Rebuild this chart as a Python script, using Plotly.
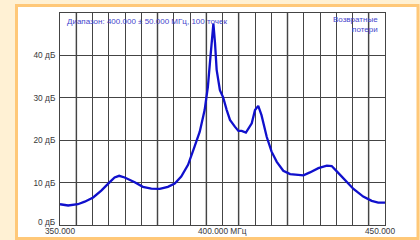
import plotly.graph_objects as go

# ---- data ----
freq_mhz = [350.0, 352.5, 355.5, 357.6, 360.2, 362.7, 365.3, 366.8, 368.2, 369.9,
            373.0, 375.5, 378.1, 380.7, 383.2, 385.3, 387.3, 389.4, 391.4, 393.0,
            394.5, 395.5, 396.2, 396.7, 397.2, 397.7, 398.2, 399.2, 400.2, 401.3,
            402.3, 403.8, 404.9, 405.9, 407.2, 409.0, 410.0, 411.0, 412.0, 413.6,
            415.1, 416.7, 418.7, 420.8, 422.8, 424.9, 426.9, 429.5, 432.1, 433.6,
            435.1, 437.7, 440.3, 443.3, 445.9, 447.9, 450.0]
return_loss_db = [4.9, 4.6, 4.9, 5.5, 6.5, 8.1, 10.1, 11.2, 11.6, 11.2,
                  10.1, 9.0, 8.6, 8.5, 9.0, 9.8, 11.4, 14.2, 18.5, 22.0,
                  27.1, 32.6, 38.9, 42.9, 47.5, 42.9, 36.6, 31.8, 30.1, 27.1,
                  24.8, 23.2, 22.2, 22.2, 21.8, 24.0, 27.1, 28.1, 25.9, 20.8,
                  17.3, 14.9, 12.8, 12.0, 11.9, 11.7, 12.4, 13.4, 14.0, 13.9,
                  12.7, 10.6, 8.5, 6.7, 5.7, 5.3, 5.3]

y_tick_vals = [0, 10, 20, 30, 40]
y_tick_text = ["0 дБ", "10 дБ", "20 дБ", "30 дБ", "40 дБ"]
x_label_vals = [350, 400, 450]
x_label_text = ["350.000", "400.000 МГц", "450.000"]
marker_lines = [355, 380, 395, 405, 420, 445]

title_text = "Диапазон: 400.000 ± 50.000 МГц, 100 точек"
mode_text = "Возвратные<br>потери"

FONT = "Liberation Sans"
TICK_FONT = dict(family=FONT, size=8.3, color="#383838")
NOTE_FONT = dict(family=FONT, size=8, color="#4444cc")

fig = go.Figure()
fig.add_trace(go.Scatter(
    x=freq_mhz, y=return_loss_db, mode="lines",
    line=dict(color="#1010cc", width=2.3), hoverinfo="skip", showlegend=False,
))

shapes = [
    # outer white panel with orange frame
    dict(type="rect", xref="paper", yref="paper",
         x0=(16.5 - 60) / 325, x1=(418 - 60) / 325,
         y0=(225 - 238.5) / 212, y1=(225 - 5.5) / 212,
         fillcolor="white", line=dict(color="#ffc878", width=3), layer="below"),
]
for m in marker_lines:
    shapes.append(dict(type="line", xref="x", yref="paper", x0=m, x1=m, y0=0, y1=1,
                       line=dict(color="#a8a8a8", width=2), layer="between"))

annotations = [
    dict(text=title_text, xref="paper", yref="paper", x=(65 - 60) / 325, y=(225 - 21) / 212,
         xanchor="left", yanchor="middle", showarrow=False, font=NOTE_FONT),
    dict(text=mode_text, xref="paper", yref="paper", x=(380 - 60) / 325, y=(225 - 25) / 212,
         xanchor="right", yanchor="middle", align="right", showarrow=False, font=NOTE_FONT),
    # lowest y label sits just above the axis corner
    dict(text=y_tick_text[0], xref="paper", yref="paper", x=(58 - 60) / 325,
         y=(225 - 222) / 212, xanchor="right", yanchor="middle", showarrow=False,
         font=TICK_FONT),
]
x_centers = [60, 222.5, 380]
for v, t, cx in zip(x_label_vals, x_label_text, x_centers):
    annotations.append(dict(text=t, xref="paper", yref="paper",
                            x=(cx - 60) / 325, y=(225 - 231) / 212,
                            xanchor="center", yanchor="middle", showarrow=False,
                            font=TICK_FONT))

fig.update_layout(
    width=420, height=240,
    margin=dict(l=60, r=35, t=13, b=15),
    paper_bgcolor="#fff1d4",
    plot_bgcolor="#f0f0f0",
    shapes=shapes,
    annotations=annotations,
    xaxis=dict(range=[350, 450], tick0=350, dtick=5, showticklabels=False,
               showgrid=True, gridcolor="#444444", gridwidth=1, zeroline=False,
               showline=True, linecolor="#444444", linewidth=1, mirror=True, ticks=""),
    yaxis=dict(range=[0, 50], tickvals=y_tick_vals[1:], ticktext=y_tick_text[1:],
               showgrid=True, gridcolor="#444444", gridwidth=1, zeroline=False,
               showline=True, linecolor="#444444", linewidth=1, mirror=True, ticks="",
               ticklabelstandoff=2, tickfont=TICK_FONT),
)

fig.write_html("out.html",
               config={"displayModeBar": False, "staticPlot": True},
               post_script="document.body.style.margin='0';document.body.style.overflow='hidden';")
